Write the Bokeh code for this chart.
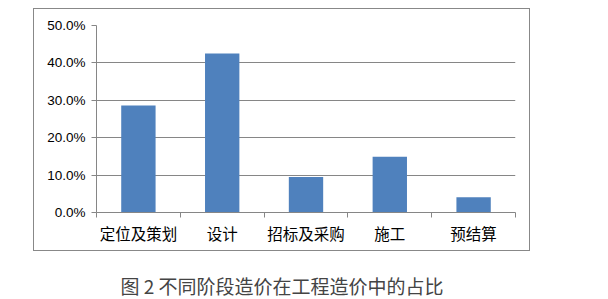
from bokeh.plotting import figure
from bokeh.models import Range1d, FixedTicker, NumeralTickFormatter, Div
from bokeh.layouts import column
from bokeh.embed import file_html
from bokeh.resources import INLINE

categories = ["定位及策划", "设计", "招标及采购", "施工", "预结算"]
shares = [0.286, 0.425, 0.095, 0.149, 0.041]
y_ticks = [0.0, 0.1, 0.2, 0.3, 0.4, 0.5]
caption = "图 2 不同阶段造价在工程造价中的占比"

n = len(categories)
xs = [i + 0.5 for i in range(n)]

p = figure(width=497, height=243, output_backend="svg", toolbar_location=None,
           x_range=Range1d(0, n), y_range=Range1d(0, 0.5),
           min_border_left=62, min_border_right=16, min_border_top=16, min_border_bottom=40)
p.outline_line_color = None
p.background_fill_color = "white"
p.border_fill_color = "white"
p.margin = (8, 0, 0, 33)
p.styles = {"border": "1px solid #888888", "box-sizing": "border-box"}

p.vbar(x=xs, top=shares, width=0.41, bottom=0, fill_color="#4F81BD", line_color=None)

grid_col = "#868686"
yax = p.yaxis[0]
yax.ticker = FixedTicker(ticks=y_ticks)
yax.formatter = NumeralTickFormatter(format="0.0%")
yax.axis_line_color = grid_col
yax.major_tick_line_color = grid_col
yax.major_tick_out = 5
yax.major_tick_in = 0
yax.minor_tick_line_color = None
yax.major_label_text_font = "Liberation Sans"
yax.major_label_text_font_size = "13.5px"
yax.major_label_text_color = "#000000"
yax.major_label_standoff = 6

xax = p.xaxis[0]
xax.ticker = FixedTicker(ticks=xs, minor_ticks=list(range(n + 1)))
xax.major_label_overrides = {x: c for x, c in zip(xs, categories)}
xax.axis_line_color = grid_col
xax.major_tick_line_color = None
xax.major_tick_out = 0
xax.major_tick_in = 0
xax.minor_tick_line_color = grid_col
xax.minor_tick_out = 5
xax.minor_tick_in = 0
xax.major_label_text_font = "Noto Sans CJK SC"
xax.major_label_text_font_size = "15.5px"
xax.major_label_text_color = "#000000"
xax.major_label_standoff = 4

p.xgrid.grid_line_color = None
p.ygrid.ticker = FixedTicker(ticks=y_ticks)
p.ygrid.grid_line_color = grid_col
p.ygrid.grid_line_width = 1

div = Div(text=caption, width=564, height=30, margin=(20, 0, 0, 0),
          styles={"text-align": "center", "font-family": "Noto Sans CJK SC",
                  "font-size": "19px", "color": "#444444", "line-height": "30px",
                  "width": "564px", "white-space": "pre"})

layout = column(p, div, width=608, height=299, spacing=0)
open("out.html", "w").write(file_html(layout, INLINE))
